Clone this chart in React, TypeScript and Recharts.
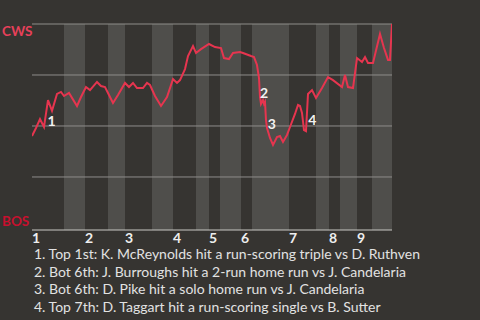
import React from 'react';
import {
  LineChart,
  Line,
  XAxis,
  YAxis,
  ReferenceArea,
  ReferenceLine,
  ReferenceDot,
} from 'recharts';

// Game progress (x) and White Sox win probability in percent (y)
const progress = [
  0, 2, 4, 6, 8, 10, 12.5, 14.5, 16, 18.5, 22.5, 24.5, 27, 29, 32.5, 34.5, 36.5, 38, 40.5, 43,
  46.5, 48.5, 50.5, 52.5, 55.5, 57.5, 59, 61.5, 64.5, 67.5, 70.5, 72.5, 74, 76.5, 78, 80.5, 82,
  84.5, 88.5, 91.5, 94.5, 96, 98.5, 100.5, 104, 105.5, 109.5, 111, 112.5, 113.5, 114, 114.5,
  115.5, 116, 116.5, 117, 117.5, 119, 120.5, 122.5, 124, 125.5, 127.5, 129, 131.5, 133, 134, 135,
  136, 137, 138, 140, 142, 145, 148, 150.5, 155, 156.5, 158, 160.5, 162.5, 165, 166.5, 168,
  170.5, 174, 176, 178, 179, 180,
];
const cwsWinPct = [
  45.1, 49.0, 53.4, 49.5, 62.7, 57.4, 65.7, 66.7, 64.7, 66.2, 59.8, 64.2, 69.1, 67.6, 71.6, 69.6,
  69.1, 66.2, 61.3, 65.2, 71.1, 69.1, 71.1, 68.6, 68.6, 71.1, 70.1, 64.7, 59.8, 64.2, 73.0, 71.1,
  72.5, 77.9, 84.3, 89.2, 85.8, 87.7, 90.2, 88.7, 88.2, 83.3, 82.8, 85.8, 86.3, 85.8, 84.3, 83.8,
  79.9, 73.5, 64.2, 60.8, 62.7, 60.8, 61.8, 52.9, 49.0, 44.1, 40.7, 44.6, 45.1, 42.2, 45.6, 49.5,
  55.9, 60.3, 59.8, 56.4, 48.0, 47.5, 65.7, 67.6, 63.7, 68.6, 74.0, 72.5, 69.1, 75.0, 69.1, 68.6,
  83.3, 81.4, 83.8, 80.9, 80.9, 95.1, 88.2, 82.4, 82.4, 100,
];

// Where each half-inning begins on the progress scale (last entry = end of game)
const halfInningStarts = [
  0, 16, 26.5, 38, 46.5, 60, 70.5, 82, 88.5, 94, 104.5, 110, 128.5, 142, 148.5, 154, 162.5, 170, 180,
];
const inningLabels = ['1', '2', '3', '4', '5', '6', '7', '8', '9'];

// Key plays: marker number, marker position, description
const playIds = ['1', '2', '3', '4'];
const playX = [9.75, 116, 119.85, 140.15];
const playY = [52.5, 66.2, 50.8, 52.9];
const playTexts = [
  'Top 1st: K. McReynolds hit a run-scoring triple vs D. Ruthven',
  'Bot 6th: J. Burroughs hit a 2-run home run vs J. Candelaria',
  'Bot 6th: D. Pike hit a solo home run vs J. Candelaria',
  'Top 7th: D. Taggart hit a run-scoring single vs B. Sutter',
];

const gridValues = [25, 50, 75, 100];

const data = progress.map((t, i) => ({ t, p: cwsWinPct[i] }));
const bottomHalves = halfInningStarts
  .slice(0, -1)
  .map((start, i) => ({ start, end: halfInningStarts[i + 1], i }))
  .filter((h) => h.i % 2 === 1);
const inningTicks = halfInningStarts.filter((_, i) => i % 2 === 0 && i < 18);

const FONT = 'Lato, "Noto Sans", sans-serif';
const BG = '#363431';
const BAND = '#4f4e4b';
const GRID = '#8e8d8a';
const AXIS = '#c9c8c5';
const LINE = '#e6354f';

const InningTick = (props: any) => {
  const { x, y, index } = props;
  return (
    <text
      x={x}
      y={y + 13}
      textAnchor="start"
      fill="#eeeeee"
      fontSize={14}
      fontWeight={700}
      fontFamily={FONT}
    >
      {inningLabels[index]}
    </text>
  );
};

export default function App() {
  return (
    <div
      style={{
        position: 'absolute',
        left: 0,
        top: 0,
        width: 480,
        height: 320,
        background: BG,
        overflow: 'hidden',
      }}
    >
      <LineChart
        width={480}
        height={320}
        data={data}
        margin={{ top: 24, right: 88, bottom: 70, left: 32 }}
      >
        {bottomHalves.map((h) => (
          <ReferenceArea
            key={h.i}
            x1={h.start}
            x2={h.end}
            y1={-1}
            y2={100}
            fill={BAND}
            fillOpacity={1}
            stroke="none"
            ifOverflow="visible"
          />
        ))}
        {gridValues.map((v) => (
          <ReferenceLine key={v} y={v} stroke={GRID} strokeWidth={1} />
        ))}
        <XAxis
          dataKey="t"
          type="number"
          domain={[0, 180]}
          ticks={inningTicks}
          interval={0}
          tick={<InningTick />}
          tickLine={false}
          tickSize={0}
          tickMargin={0}
          height={20}
          axisLine={{ stroke: AXIS, strokeWidth: 1 }}
          allowDataOverflow
        />
        <YAxis
          type="number"
          domain={[-1, 100]}
          width={0}
          tick={false}
          tickLine={false}
          axisLine={{ stroke: AXIS, strokeWidth: 1 }}
          allowDataOverflow
        />
        <Line
          type="linear"
          dataKey="p"
          stroke={LINE}
          strokeWidth={2}
          dot={false}
          isAnimationActive={false}
        />
        {playIds.map((id, i) => (
          <ReferenceDot
            key={id}
            x={playX[i]}
            y={playY[i]}
            r={0}
            fill="none"
            stroke="none"
            label={{
              value: id,
              position: 'center',
              fill: '#f2f2f2',
              fontSize: 14,
              fontWeight: 700,
              fontFamily: FONT,
            }}
          />
        ))}
      </LineChart>
      <svg
        width={480}
        height={320}
        style={{ position: 'absolute', left: 0, top: 0, pointerEvents: 'none' }}
      >
        <text x={2} y={36} fill="#e8405a" fontSize={13.5} fontWeight={700} fontFamily={FONT}>
          CWS
        </text>
        <text x={2} y={226} fill="#c8102e" fontSize={13.5} fontWeight={700} fontFamily={FONT}>
          BOS
        </text>
        {playTexts.map((txt, i) => (
          <text
            key={i}
            x={34}
            y={259 + i * 17.5}
            fill="#e2e2e2"
            fontSize={14}
            fontFamily={FONT}
          >
            {`${playIds[i]}. ${txt}`}
          </text>
        ))}
      </svg>
    </div>
  );
}
